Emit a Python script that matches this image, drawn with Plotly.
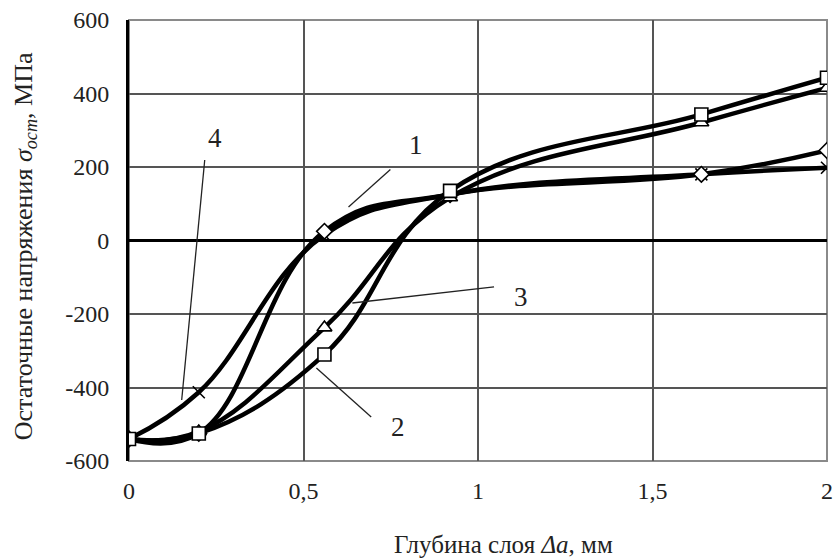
import plotly.graph_objects as go

# Data
depth = [0, 0.2, 0.56, 0.92, 1.64, 2.0]
curve1 = [-540, -525, 25, 125, 180, 245]    # diamonds
curve2 = [-540, -525, -310, 135, 343, 443]  # squares
curve3 = [-540, -520, -237, 117, 321, 415]  # triangles
curve4 = [-540, -413, 15, 125, 180, 198]    # crosses

x_ticks = [0, 0.5, 1, 1.5, 2]
x_ticktext = ["0", "0,5", "1", "1,5", "2"]
y_ticks = [-600, -400, -200, 0, 200, 400, 600]
y_ticktext = ["-600", "-400", "-200", "0", "200", "400", "600"]

# curve labels and leader lines (data coords)
labels = ["1", "2", "3", "4"]
label_x = [0.823, 0.771, 1.123, 0.246]
label_y = [261, -507, -154, 280]
lead_x0 = [0.749, 0.694, 1.046, 0.217]
lead_y0 = [193, -480, -126, 219]
lead_x1 = [0.629, 0.537, 0.640, 0.151]
lead_y1 = [91, -347, -170, -434]

FONT = "Liberation Serif"
fig = go.Figure()

series = [
    (curve4, "x-thin", 12),
    (curve1, "diamond", 12),
    (curve3, "triangle-up", 13),
    (curve2, "square", 13),
]
for ys, sym, sz in series:
    fig.add_trace(go.Scatter(
        x=depth, y=ys, mode="lines",
        line=dict(color="black", width=4.5, shape="spline", smoothing=1.2),
        showlegend=False, hoverinfo="skip"))
for ys, sym, sz in series:
    fig.add_trace(go.Scatter(
        x=depth, y=ys, mode="markers",
        marker=dict(symbol=sym, size=sz,
                    color="black" if sym.startswith("x") else "white",
                    line=dict(color="black", width=1.6)),
        showlegend=False, hoverinfo="skip"))

shapes = []
for x0, y0, x1, y1 in zip(lead_x0, lead_y0, lead_x1, lead_y1):
    shapes.append(dict(type="line", xref="x", yref="y", x0=x0, y0=y0, x1=x1, y1=y1,
                       line=dict(color="#222", width=1.3)))
# grey frame
shapes.append(dict(type="rect", xref="paper", yref="paper", x0=0, y0=0, x1=1, y1=1,
                   line=dict(color="#8a8a8a", width=2), layer="below"))

annotations = []
for t, lx, ly in zip(labels, label_x, label_y):
    annotations.append(dict(x=lx, y=ly, xref="x", yref="y", text=t, showarrow=False,
                            font=dict(family=FONT, size=27, color="#222")))
# axis titles
annotations.append(dict(x=0.536, y=-0.19, xref="paper", yref="paper",
                        xanchor="center", yanchor="middle",
                        text="Глубина слоя <i>Δa</i>, мм", showarrow=False,
                        font=dict(family=FONT, size=25, color="#222")))
annotations.append(dict(x=-0.149, y=0.487, xref="paper", yref="paper",
                        xanchor="center", yanchor="middle", textangle=-90,
                        text="Остаточные напряжения <i>σ<sub>ост</sub></i>, МПа", showarrow=False,
                        font=dict(family=FONT, size=26, color="#222")))

fig.update_layout(
    width=835, height=559,
    margin=dict(l=129, r=8, t=20, b=98, autoexpand=False),
    paper_bgcolor="white", plot_bgcolor="white",
    font=dict(family=FONT, size=24, color="#222"),
    shapes=shapes, annotations=annotations,
    xaxis=dict(range=[0, 2], tickvals=x_ticks, ticktext=x_ticktext,
               showgrid=True, gridcolor="#555", gridwidth=1.5, automargin=False,
               zeroline=False, showline=False, ticks="", ticklabelstandoff=13),
    yaxis=dict(range=[-600, 600], tickvals=y_ticks, ticktext=y_ticktext,
               showgrid=True, gridcolor="#555", gridwidth=1.5, automargin=False,
               zeroline=True, zerolinecolor="black", zerolinewidth=2.8,
               showline=True, linecolor="black", linewidth=3,
               ticks="", ticklabelstandoff=12),
)

fig.write_html("out.html", config={"displayModeBar": False},
               post_script="document.body.style.margin='0';document.body.style.padding='0';")
